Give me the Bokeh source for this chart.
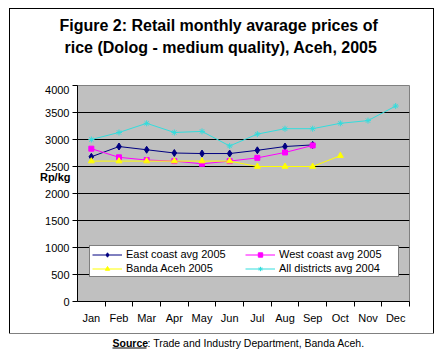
from bokeh.plotting import figure
from bokeh.models import (Range1d, FixedTicker, Legend, LegendItem, LinearAxis)
from bokeh.layouts import column
from bokeh.core.properties import value
from bokeh.embed import file_html
from bokeh.resources import INLINE

months = ["Jan", "Feb", "Mar", "Apr", "May", "Jun",
          "Jul", "Aug", "Sep", "Oct", "Nov", "Dec"]
east_2005 = [2680, 2870, 2810, 2750, 2740, 2740, 2800, 2870, 2900]
west_2005 = [2830, 2670, 2620, 2600, 2550, 2600, 2660, 2760, 2890]
banda_2005 = [2600, 2600, 2600, 2600, 2600, 2600, 2500, 2500, 2500, 2700]
all_2004 = [3000, 3130, 3300, 3130, 3150, 2880, 3100, 3200, 3200, 3300, 3350, 3620]
y_ticks = [0, 500, 1000, 1500, 2000, 2500, 3000, 3500, 4000]

title_lines = ["Figure 2: Retail monthly avarage prices of",
               "rice (Dolog - medium quality), Aceh, 2005"]
y_unit = "Rp/kg"
source_head = "Source"
source_text = ": Trade and Industry Department, Banda Aceh."

FONT = "Liberation Sans"


def xs(vals):
    return [months.index(m) + 1 for m in months[:len(vals)]]


def blank_fig(w, h):
    f = figure(width=w, height=h, output_backend="svg", toolbar_location=None,
               x_range=Range1d(0, w), y_range=Range1d(h, 0), title=None,
               x_axis_location=None, y_axis_location=None,
               min_border=0, min_border_left=0, min_border_right=0,
               min_border_top=0, min_border_bottom=0)
    f.grid.visible = False
    f.outline_line_color = None
    f.background_fill_color = "white"
    f.border_fill_color = "white"
    return f


# ---------------- title strip (inside the outer frame) ----------------
tf = blank_fig(423, 76)
tf.text(x=[49, 54], y=[16, 38], text=title_lines, text_align="left",
        text_baseline="middle", text_font=value(FONT), text_font_style="bold",
        text_font_size="16px", text_color="black")

# ---------------- chart ----------------
p = figure(width=423, height=248, output_backend="svg", toolbar_location=None,
           x_range=Range1d(0.5, 12.5), y_range=Range1d(0, 4000), title=None,
           min_border_left=67, min_border_right=24, min_border_top=0,
           min_border_bottom=32)
p.background_fill_color = "#C0C0C0"
p.border_fill_color = "white"
p.outline_line_color = "#808080"
p.outline_line_width = 1

centers = list(range(1, len(months) + 1))
bounds = [c + 0.5 for c in centers]
p.xaxis.ticker = FixedTicker(ticks=centers, minor_ticks=bounds)
p.xaxis.major_label_overrides = {c: m for c, m in zip(centers, months)}
p.xaxis.major_tick_out = 0
p.xaxis.major_tick_in = 0
p.xaxis.minor_tick_out = 5
p.xaxis.minor_tick_in = 0
p.xaxis.minor_tick_line_color = "black"
p.xaxis.axis_line_color = "black"
p.xaxis.major_label_standoff = 5
p.xaxis.major_label_text_font = FONT
p.xaxis.major_label_text_font_size = "11px"
p.xaxis.major_label_text_color = "black"
p.xgrid.grid_line_color = None

p.yaxis.ticker = FixedTicker(ticks=y_ticks)
p.yaxis.major_tick_out = 5
p.yaxis.major_tick_in = 0
p.yaxis.minor_tick_line_color = None
p.yaxis.axis_line_color = "black"
p.yaxis.major_label_standoff = 3
p.yaxis.major_label_text_font = FONT
p.yaxis.major_label_text_font_size = "11px"
p.yaxis.major_label_text_color = "black"
p.ygrid.grid_line_color = "black"
p.ygrid.grid_line_width = 1

# unit label placed like an extra tick label on an outer left axis
unit_axis = LinearAxis(ticker=FixedTicker(ticks=[2300]),
                       major_label_overrides={2300: y_unit},
                       major_tick_out=0, major_tick_in=0, axis_line_color=None,
                       minor_tick_line_color=None, major_label_standoff=-28,
                       major_label_text_font=FONT, major_label_text_font_style="bold",
                       major_label_text_font_size="11px",
                       major_label_text_color="black")
p.add_layout(unit_axis, "left")

r1 = p.line(xs(east_2005), east_2005, line_color="#000080", line_width=1)
s1 = p.scatter(xs(east_2005), east_2005, marker="diamond", size=7, color="#000080")
r2 = p.line(xs(west_2005), west_2005, line_color="#FF00FF", line_width=1)
s2 = p.scatter(xs(west_2005), west_2005, marker="square", size=5, color="#FF00FF")
r3 = p.line(xs(banda_2005), banda_2005, line_color="#FFFF00", line_width=1)
s3 = p.scatter(xs(banda_2005), banda_2005, marker="triangle", size=6, color="#FFFF00")
r4 = p.line(xs(all_2004), all_2004, line_color="#33DDDD", line_width=1)
s4 = p.scatter(xs(all_2004), all_2004, marker="asterisk", size=6, line_color="#33DDDD")

leg = Legend(items=[LegendItem(label="East coast avg 2005", renderers=[r1, s1]),
                    LegendItem(label="Banda Aceh 2005", renderers=[r3, s3]),
                    LegendItem(label="West coast avg 2005", renderers=[r2, s2]),
                    LegendItem(label="All districts avg 2004", renderers=[r4, s4])],
             ncols=2, location=(12, 24), padding=2, spacing=2, margin=0,
             glyph_width=30, glyph_height=11, label_height=11, label_width=117,
             label_standoff=4, label_text_font=FONT, label_text_font_size="11px",
             label_text_color="black", border_line_color="black",
             border_line_width=1, background_fill_color="white",
             background_fill_alpha=1)
p.add_layout(leg)

# wrap the title strip so its frame is not aligned with the chart's frame
title_box = column(tf, spacing=0, margin=0)
framed = column(title_box, p, spacing=0, margin=(9, 0, 0, 10),
                styles={"outline": "1px solid black"})

# ---------------- source strip (below the frame) ----------------
sf = blank_fig(442, 19)
sf.text(x=[112], y=[9], text=[source_head], text_align="left",
        text_baseline="middle", text_font=value(FONT), text_font_style="bold",
        text_font_size="10.5px", text_color="black")
sf.text(x=[147], y=[9], text=[source_text], text_align="left",
        text_baseline="middle", text_font=value(FONT), text_font_style="normal",
        text_font_size="10.5px", text_color="black")
sf.line(x=[112, 146], y=[14.5, 14.5], line_color="black", line_width=1)

layout = column(framed, sf, spacing=0, margin=0)

open("out.html", "w").write(file_html(layout, INLINE))
